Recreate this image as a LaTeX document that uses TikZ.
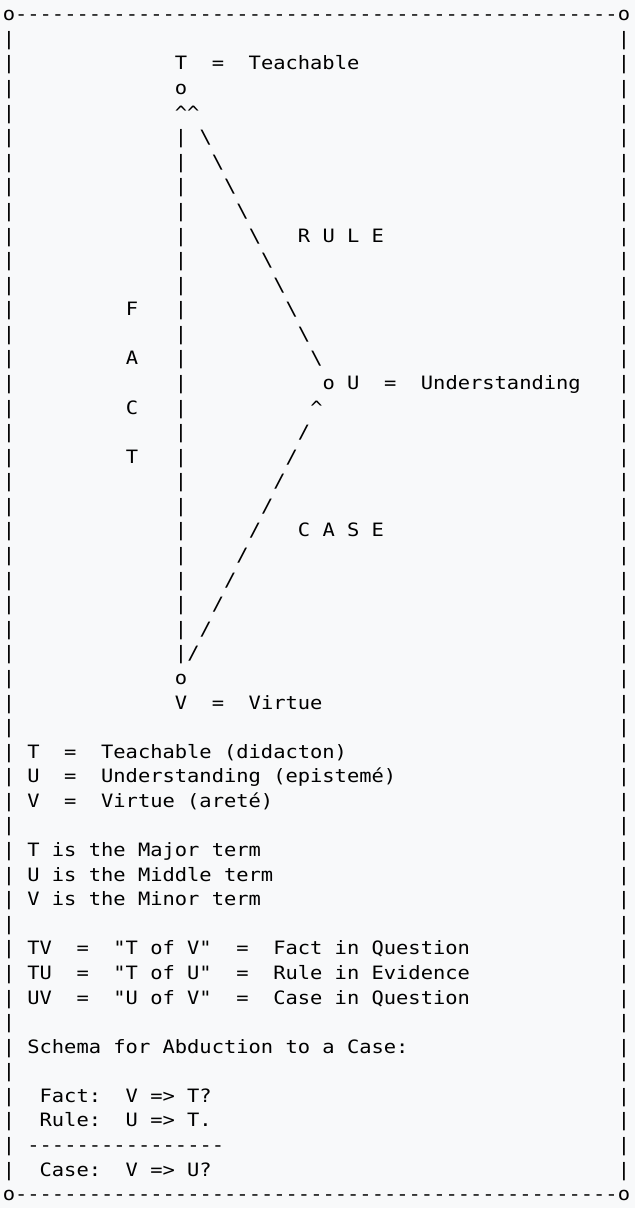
\documentclass[tikz,border=0pt]{standalone}
\usepackage{fontspec}
\usepackage{tikz}
\newfontfamily\asciifont{DejaVu Sans Mono}[FakeStretch=1.11]
\definecolor{ink}{HTML}{000000}
\definecolor{pagebg}{HTML}{F8F9FA}
\tikzset{
  asc/.style={anchor=base west,inner sep=0pt,outer sep=0pt,text=ink,
    font=\asciifont\fontsize{13.8pt}{16pt}\selectfont},
}
\frenchspacing

\begin{document}
\begin{tikzpicture}[x=9.225pt,y=18.435pt,yscale=-1]
\useasboundingbox (-0.2236,-0.8462) rectangle (51.4024,48.2998);
%Shape: background
\fill[pagebg] (-0.2236,-0.8462) rectangle (51.4024,48.2998);

%Frame
\node[asc] (cornerTL) at (0,0) {o};
\node[asc] (cornerTR) at (50,0) {o};
\node[asc] (cornerBL) at (0,48) {o};
\node[asc] (cornerBR) at (50,48) {o};
\foreach \c in {1,...,49} {
  \node[asc] (top\c) at (\c,0) {-};
  \node[asc] (bot\c) at (\c,48) {-};
}
\foreach \r in {1,...,47} {
  \node[asc] (left\r) at (0,\r) {|};
  \node[asc] (right\r) at (50,\r) {|};
}

% Text Node
\node[asc] (Tlabel) at (14,2) {T~~=~~Teachable};
\node[asc] (Tdot) at (14,3) {o};
\node[asc] (Thead) at (14,4) {\textasciicircum\textasciicircum};
%Fact side
\foreach \r in {5,...,26} \node[asc] (fact\r) at (14,\r) {|};
\foreach \ch/\r in {F/12,A/14,C/16,T/18} \node[asc] (letter\r) at (10,\r) {\ch};
%Rule side
\foreach \r in {5,...,14} \node[asc] (rule\r) at ({\r+11},\r) {\textbackslash};
\node[asc] (ruleLabel) at (24,9) {R~U~L~E};
% Text Node
\node[asc] (Ulabel) at (26,15) {o~U~~=~~Understanding};
\node[asc] (Uhead) at (25,16) {\textasciicircum};
%Case side
\foreach \r in {17,...,26} \node[asc] (case\r) at ({41-\r},\r) {/};
\node[asc] (caseLabel) at (24,21) {C~A~S~E};
% Text Node
\node[asc] (Vdot) at (14,27) {o};
\node[asc] (Vlabel) at (14,28) {V~~=~~Virtue};

% Text Node
\node[asc] (legT) at (2,30) {T~~=~~Teachable (didacton)};
\node[asc] (legU) at (2,31) {U~~=~~Understanding (epistemé)};
\node[asc] (legV) at (2,32) {V~~=~~Virtue (areté)};
% Text Node
\node[asc] (major) at (2,34) {T is the Major term};
\node[asc] (middle) at (2,35) {U is the Middle term};
\node[asc] (minor) at (2,36) {V is the Minor term};
% Text Node
\node[asc] (TV) at (2,38) {TV~~=~~"T of V"~~=~~Fact in Question};
\node[asc] (TU) at (2,39) {TU~~=~~"T of U"~~=~~Rule in Evidence};
\node[asc] (UV) at (2,40) {UV~~=~~"U of V"~~=~~Case in Question};
% Text Node
\node[asc] (schema) at (2,42) {Schema for Abduction to a Case:};
\node[asc] (fact) at (3,44) {Fact:~~V => T?};
\node[asc] (rule) at (3,45) {Rule:~~U => T.};
\foreach \c in {2,...,17} \node[asc] (line\c) at (\c,46) {-};
\node[asc] (case) at (3,47) {Case:~~V => U?};

\end{tikzpicture}
\end{document}
